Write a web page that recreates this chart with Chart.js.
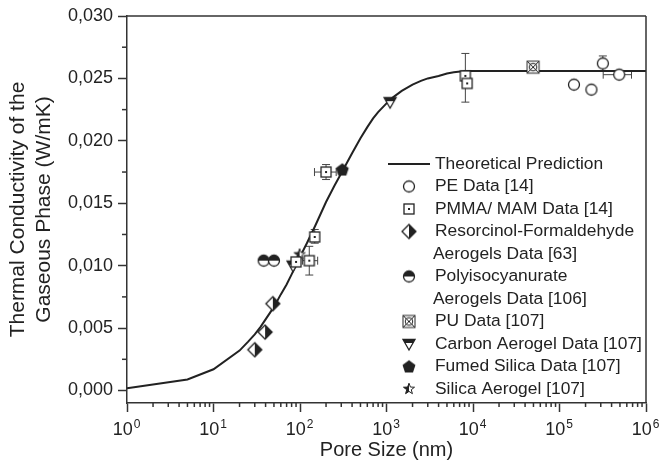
<!DOCTYPE html>
<html>
<head>
<meta charset="utf-8">
<script src="https://cdn.jsdelivr.net/npm/chart.js@4.4.0/dist/chart.umd.min.js"></script>
<style>
  html, body { margin: 0; padding: 0; background: #fff; }
</style>
</head>
<body>
<canvas id="chart" width="661" height="473"></canvas>
<script>
// Theoretical prediction: pore size (nm) vs. gas-phase conductivity (W/mK)
const theoryX = [1, 5, 10, 20, 25, 30, 35, 40, 50, 60, 70, 80, 100, 120, 150, 200, 250, 300, 400, 500, 600, 700, 800, 1000, 1200, 1500, 2000, 2500, 3000, 4000, 5000, 6000, 8000, 10000, 1000000];
const theoryY = [0.00018, 0.00088, 0.0017, 0.0032, 0.0039, 0.0045, 0.0051, 0.0057, 0.0067, 0.0077, 0.0085, 0.0093, 0.0107, 0.0118, 0.0132, 0.0151, 0.0164, 0.0174, 0.0190, 0.0202, 0.0211, 0.0218, 0.0223, 0.0230, 0.0235, 0.0240, 0.0245, 0.0248, 0.0250, 0.0252, 0.0254, 0.0255, 0.0256, 0.0256, 0.0256];

// Measured data sets
const peX = [147000, 234000, 317000, 490000];
const peY = [0.0245, 0.0241, 0.0262, 0.0253];
const pmmaX = [90, 128, 148, 200, 8160, 8560];
const pmmaY = [0.0103, 0.0104, 0.0123, 0.0175, 0.0252, 0.0246];
const rfX = [30, 39.5, 48.5];
const rfY = [0.00327, 0.00468, 0.00696];
const pirX = [38, 50];
const pirY = [0.0104, 0.0104];
const puX = [49500];
const puY = [0.0259];
const carbonX = [83, 1100];
const carbonY = [0.0100, 0.0231];
const fumedX = [308];
const fumedY = [0.0177];
const silicaX = [99];
const silicaY = [0.0109];

// Error bars (pore size range / conductivity range)
const errorBars = [
  { x: 317000, y: 0.0262, yLo: 0.0256, yHi: 0.0268 },
  { x: 490000, y: 0.0253, xLo: 320000, xHi: 680000 },
  { x: 128, y: 0.0104, xLo: 107, xHi: 160, yLo: 0.00925, yHi: 0.01155 },
  { x: 148, y: 0.0123, yLo: 0.0118, yHi: 0.0129 },
  { x: 200, y: 0.0175, xLo: 147, xHi: 262, yLo: 0.0169, yHi: 0.0181 },
  { x: 8160, y: 0.0252, yLo: 0.0231, yHi: 0.0270 }
];

const xTickValues = [1, 10, 100, 1000, 10000, 100000, 1000000];
const yTickValues = [0, 0.005, 0.010, 0.015, 0.020, 0.025, 0.030];

const ink = '#222';
const face = '"Liberation Sans", Arial, sans-serif';

function makeMarker(size, draw) {
  const c = document.createElement('canvas');
  c.width = size;
  c.height = size;
  const g = c.getContext('2d');
  g.translate(size / 2, size / 2);
  g.lineWidth = 1.3;
  g.strokeStyle = ink;
  g.fillStyle = '#fff';
  draw(g);
  return c;
}

function poly(g, pts) {
  g.beginPath();
  pts.forEach((p, i) => i ? g.lineTo(p[0], p[1]) : g.moveTo(p[0], p[1]));
  g.closePath();
}

const markers = {
  circle: makeMarker(16, g => {
    g.beginPath(); g.arc(0, 0, 5.5, 0, Math.PI * 2); g.fill(); g.stroke();
  }),
  squareDot: makeMarker(16, g => {
    g.fillRect(-5, -5, 10, 10); g.strokeRect(-5, -5, 10, 10);
    g.fillStyle = ink; g.fillRect(-1, -1, 2, 2);
  }),
  halfDiamond: makeMarker(18, g => {
    const d = [[0, -7], [7, 0], [0, 7], [-7, 0]];
    poly(g, d); g.fill();
    g.fillStyle = ink; poly(g, [[0, -7], [7, 0], [0, 7]]); g.fill();
    poly(g, d); g.stroke();
  }),
  halfCircle: makeMarker(16, g => {
    g.beginPath(); g.arc(0, 0, 5.5, 0, Math.PI * 2); g.fill();
    g.fillStyle = ink; g.beginPath(); g.arc(0, 0, 5.5, Math.PI, Math.PI * 2); g.closePath(); g.fill();
    g.beginPath(); g.arc(0, 0, 5.5, 0, Math.PI * 2); g.stroke();
  }),
  crossSquare: makeMarker(18, g => {
    g.lineWidth = 1;
    g.fillRect(-6, -6, 12, 12); g.strokeRect(-6, -6, 12, 12);
    g.beginPath(); g.moveTo(-6, -6); g.lineTo(6, 6); g.moveTo(6, -6); g.lineTo(-6, 6); g.stroke();
    g.beginPath(); g.arc(0, 0, 3.8, 0, Math.PI * 2); g.stroke();
  }),
  halfTriangle: makeMarker(16, g => {
    const t = [[-6, -4.5], [6, -4.5], [0, 6]];
    poly(g, t); g.fill();
    g.fillStyle = ink; poly(g, [[-6, -4.5], [6, -4.5], [4, -1], [-4, -1]]); g.fill();
    poly(g, t); g.stroke();
  }),
  pentagon: makeMarker(16, g => {
    const p = [];
    for (let i = 0; i < 5; i++) {
      const a = -Math.PI / 2 + i * 2 * Math.PI / 5;
      p.push([6 * Math.cos(a), 6 * Math.sin(a) + 0.5]);
    }
    g.fillStyle = ink; poly(g, p); g.fill(); g.stroke();
  }),
  star: makeMarker(16, g => {
    const p = [];
    for (let i = 0; i < 10; i++) {
      const a = -Math.PI / 2 + i * Math.PI / 5;
      const r = i % 2 ? 2.4 : 5.8;
      p.push([r * Math.cos(a), r * Math.sin(a)]);
    }
    g.lineWidth = 1;
    poly(g, p); g.fill();
    g.save(); g.clip();
    g.fillStyle = ink; g.fillRect(-6, -6, 6, 12);
    g.restore();
    poly(g, p); g.stroke();
  })
};

const pts = (xs, ys) => xs.map((x, i) => ({ x: x, y: ys[i] }));

function markerSet(label, lines, xs, ys, style) {
  return {
    label: label,
    lines: lines,
    data: pts(xs, ys),
    pointStyle: style,
    pointRadius: 6,
    showLine: false,
    order: 1
  };
}

const datasets = [
  {
    label: 'Theoretical Prediction',
    lines: ['Theoretical Prediction'],
    data: pts(theoryX, theoryY),
    showLine: true,
    borderColor: ink,
    borderWidth: 2,
    pointRadius: 0,
    tension: 0,
    order: 10
  },
  markerSet('PE Data [14]', ['PE Data [14]'], peX, peY, markers.circle),
  markerSet('PMMA/ MAM Data [14]', ['PMMA/ MAM Data [14]'], pmmaX, pmmaY, markers.squareDot),
  markerSet('Resorcinol-Formaldehyde Aerogels Data [63]', ['Resorcinol-Formaldehyde', 'Aerogels Data [63]'], rfX, rfY, markers.halfDiamond),
  markerSet('Polyisocyanurate Aerogels Data [106]', ['Polyisocyanurate', 'Aerogels Data [106]'], pirX, pirY, markers.halfCircle),
  markerSet('PU Data [107]', ['PU Data [107]'], puX, puY, markers.crossSquare),
  markerSet('Carbon Aerogel Data [107]', ['Carbon Aerogel Data [107]'], carbonX, carbonY, markers.halfTriangle),
  markerSet('Fumed Silica Data [107]', ['Fumed Silica Data [107]'], fumedX, fumedY, markers.pentagon),
  markerSet('Silica Aerogel [107]', ['Silica Aerogel [107]'], silicaX, silicaY, markers.star)
];

function seg(ctx, x1, y1, x2, y2) {
  ctx.beginPath(); ctx.moveTo(x1, y1); ctx.lineTo(x2, y2); ctx.stroke();
}

const errorBarPlugin = {
  id: 'errorBars',
  beforeDatasetsDraw(chart) {
    const { ctx, scales: { x, y } } = chart;
    const cap = 4;
    ctx.save();
    ctx.strokeStyle = '#444';
    ctx.lineWidth = 1;
    errorBars.forEach(e => {
      const px = x.getPixelForValue(e.x), py = y.getPixelForValue(e.y);
      if (e.yLo !== undefined) {
        const a = y.getPixelForValue(e.yLo), b = y.getPixelForValue(e.yHi);
        seg(ctx, px, a, px, b);
        seg(ctx, px - cap, a, px + cap, a);
        seg(ctx, px - cap, b, px + cap, b);
      }
      if (e.xLo !== undefined) {
        const a = x.getPixelForValue(e.xLo), b = x.getPixelForValue(e.xHi);
        seg(ctx, a, py, b, py);
        seg(ctx, a, py - cap, a, py + cap);
        seg(ctx, b, py - cap, b, py + cap);
      }
    });
    ctx.restore();
  }
};

const decorPlugin = {
  id: 'decor',
  afterDraw(chart) {
    const { ctx, chartArea: area, scales: { x, y } } = chart;
    ctx.save();
    ctx.strokeStyle = '#333';
    ctx.lineWidth = 1.5;

    // frame: top and right
    seg(ctx, area.left, area.top, area.right, area.top);
    seg(ctx, area.right, area.top, area.right, area.bottom);

    // minor ticks
    for (let e = 0; e < 6; e++) {
      for (let m = 2; m < 10; m++) {
        const px = x.getPixelForValue(m * Math.pow(10, e));
        seg(ctx, px, area.bottom, px, area.bottom + 4);
      }
    }
    for (let i = 0; i < yTickValues.length - 1; i++) {
      const py = y.getPixelForValue((yTickValues[i] + yTickValues[i + 1]) / 2);
      seg(ctx, area.left - 5, py, area.left, py);
    }

    // x tick labels as powers of ten
    ctx.fillStyle = ink;
    ctx.textBaseline = 'alphabetic';
    ctx.textAlign = 'left';
    xTickValues.forEach(v => {
      const px = x.getPixelForValue(v);
      const exp = String(Math.round(Math.log10(v)));
      ctx.font = '18px ' + face;
      const wb = ctx.measureText('10').width;
      ctx.font = '12px ' + face;
      const we = ctx.measureText(exp).width;
      const x0 = px - (wb + we) / 2 - 1;
      ctx.font = '18px ' + face;
      ctx.fillText('10', x0, area.bottom + 32);
      ctx.font = '12px ' + face;
      ctx.fillText(exp, x0 + wb + 1, area.bottom + 25);
    });

    // legend
    const rowH = 22.5, top = 164, markX = 409, textX = 435;
    let row = 0;
    ctx.font = '17.4px ' + face;
    ctx.textBaseline = 'middle';
    chart.data.datasets.forEach(ds => {
      const cy = top + row * rowH;
      if (ds.showLine) {
        ctx.strokeStyle = ink;
        ctx.lineWidth = 2;
        seg(ctx, 388, cy, 430, cy);
      } else {
        const img = ds.pointStyle;
        ctx.drawImage(img, markX - img.width / 2, cy - img.height / 2);
      }
      ds.lines.forEach((t, k) => {
        ctx.fillText(t, k ? textX - 2 : textX, top + (row + k) * rowH);
      });
      row += ds.lines.length;
    });
    ctx.restore();
  }
};

new Chart(document.getElementById('chart'), {
  type: 'scatter',
  data: { datasets: datasets },
  options: {
    responsive: false,
    animation: false,
    devicePixelRatio: 1,
    layout: { padding: { top: 16, right: 15, left: 0, bottom: 0 } },
    plugins: {
      legend: { display: false },
      tooltip: { enabled: false }
    },
    scales: {
      x: {
        type: 'logarithmic',
        min: 1,
        max: 1000000,
        afterBuildTicks: s => { s.ticks = xTickValues.map(v => ({ value: v })); },
        afterFit: s => { s.height = 70; },
        grid: { drawOnChartArea: false, drawTicks: true, tickLength: 9, tickWidth: 1.5, tickColor: '#333' },
        border: { display: true, color: '#333', width: 1.5 },
        ticks: { display: false },
        title: {
          display: true,
          text: 'Pore Size (nm)',
          color: ink,
          font: { family: face, size: 20 },
          padding: { top: 0, bottom: 11 }
        }
      },
      y: {
        min: -0.001,
        max: 0.030,
        afterBuildTicks: s => { s.ticks = yTickValues.map(v => ({ value: v })); },
        afterFit: s => { s.width = 127; },
        grid: { drawOnChartArea: false, drawTicks: true, tickLength: 9, tickWidth: 1.5, tickColor: '#333' },
        border: { display: true, color: '#333', width: 1.5 },
        ticks: {
          color: ink,
          padding: 5,
          font: { family: face, size: 18 },
          callback: v => v.toFixed(3).replace('.', ',')
        },
        title: {
          display: true,
          text: ['Thermal Conductivity of the', 'Gaseous Phase (W/mK)'],
          color: ink,
          font: { family: face, size: 21, lineHeight: 1.24 },
          padding: { top: 5, bottom: 0 }
        }
      }
    }
  },
  plugins: [errorBarPlugin, decorPlugin]
});
</script>
</body>
</html>
